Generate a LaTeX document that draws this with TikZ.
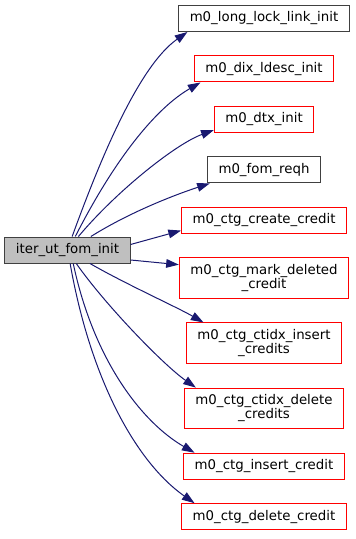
\documentclass[tikz,border=0pt]{standalone}
\usepackage{fontspec}
\setmainfont{DejaVu Sans}
\usetikzlibrary{arrows.meta}
\usetikzlibrary{positioning}

\definecolor{callblue}{HTML}{191970}
\definecolor{boxgray}{HTML}{404040}
\definecolor{rootfill}{HTML}{BFBFBF}

\begin{document}
\begin{tikzpicture}[x=0.75pt,y=0.75pt]

\tikzset{
    fn/.style = {draw=boxgray, line width=0.75pt, fill=white, inner xsep=8.25pt, inner ysep=2pt,
                 minimum height=19.5pt, align=center, font=\fontsize{10}{10.5}\selectfont},
    nodoc/.style = {fn, draw=red},
    twoline/.style = {minimum height=30.5pt},
    call/.style = {-{Triangle[length=9.5pt,width=6.5pt]}, draw=callblue, line width=0.75pt}
}

\pgfmathsetmacro{\G}{17.6}

\useasboundingbox (0,0) rectangle (355,-539);

%caller
\node[fn, fill=rootfill] (fominit) at (67.5,-250) {iter\_ut\_fom\_init};

%callees, top to bottom
\node[fn] (locklink) at (264,-18.5) {m0\_long\_lock\_link\_init};
\node[nodoc, below=\G pt of locklink] (ldesc) {m0\_dix\_ldesc\_init};
\node[nodoc, below=\G pt of ldesc] (dtxinit) {m0\_dtx\_init};
\node[fn, below=\G pt of dtxinit] (reqh) {m0\_fom\_reqh};
\node[nodoc, below=\G pt of reqh] (createcr) {m0\_ctg\_create\_credit};
\node[nodoc, twoline, below=\G pt of createcr] (markdel) {m0\_ctg\_mark\_deleted\\\_credit};
\node[nodoc, twoline, below=\G pt of markdel] (ctinsert) {m0\_ctg\_ctidx\_insert\\\_credits};
\node[nodoc, twoline, below=\G pt of ctinsert] (ctdelete) {m0\_ctg\_ctidx\_delete\\\_credits};
\node[nodoc, below=\G pt of ctdelete] (insertcr) {m0\_ctg\_insert\_credit};
\node[nodoc, below=\G pt of insertcr] (deletecr) {m0\_ctg\_delete\_credit};

%upper calls
\draw[call] (fominit.71) .. controls +(70:80) and +(215:60) .. (locklink.190);
\draw[call] (fominit.60) .. controls +(63:90) and +(210:50) .. (ldesc.192);
\draw[call] (fominit.51) .. controls +(50:60) and +(200:40) .. (dtxinit.192);
\draw[call] (fominit.30) .. controls +(32:50) and +(198:30) .. (reqh.194);

%straight ones
\draw[call] (fominit.5) -- (createcr.187);
\draw[call] (fominit.-9) -- (markdel.171);

%lower calls
\draw[call] (fominit.-31) .. controls +(-30:40) and +(150:30) .. (ctinsert.161);
\draw[call] (fominit.-57) .. controls +(-55:50) and +(145:40) .. (ctdelete.163);
\draw[call] (fominit.-67) .. controls +(-78:100) and +(150:60) .. (insertcr.169);
\draw[call] (fominit.-79) .. controls +(-80:120) and +(145:70) .. (deletecr.169);

\end{tikzpicture}
\end{document}
